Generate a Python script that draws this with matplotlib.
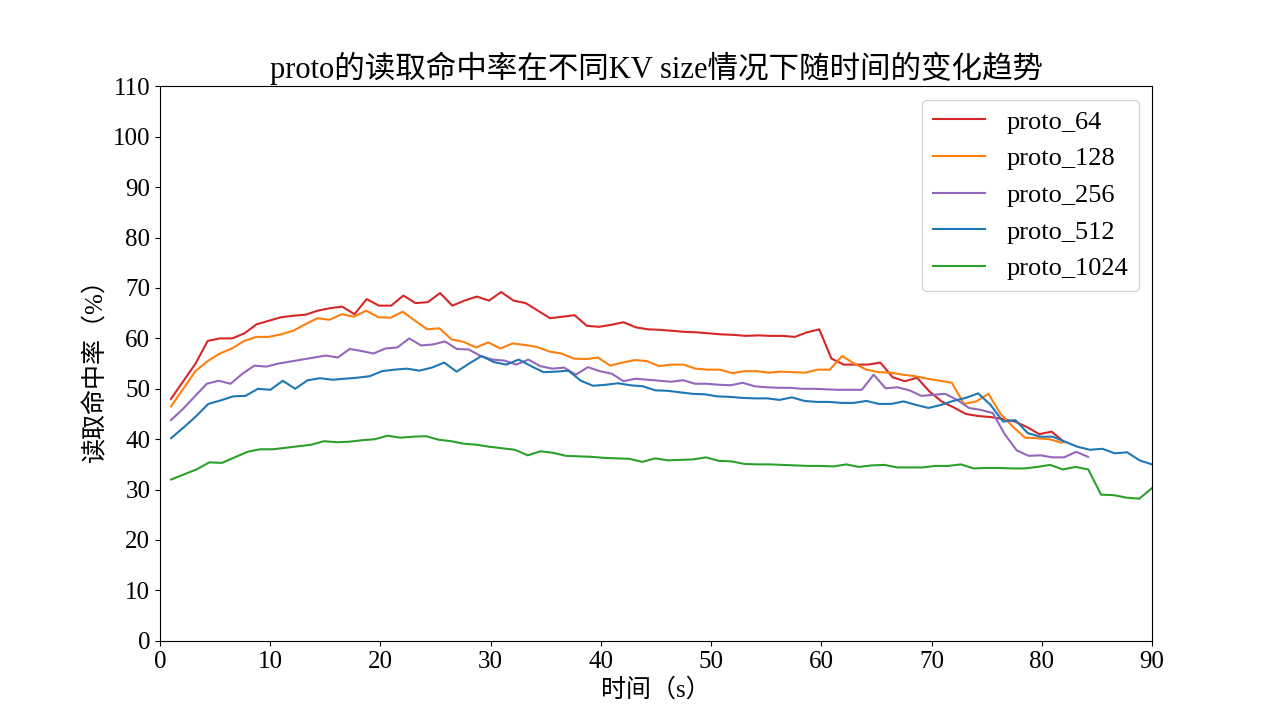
import numpy as np
import matplotlib.pyplot as plt

plt.rcParams['font.family'] = ['Liberation Serif', 'Noto Sans CJK SC', 'DejaVu Sans']

proto_64 = [48, 51.5, 55, 59.5, 60, 60, 61, 62.8, 63.5, 64.2, 64.5, 64.7, 65.5, 66, 66.3, 64.8, 67.8, 66.5,
            66.5, 68.5, 67, 67.2, 69, 66.5, 67.5, 68.3, 67.5, 69.2, 67.5, 67, 65.5, 64, 64.3, 64.6, 62.5, 62.3,
            62.7, 63.2, 62.2, 61.8, 61.7, 61.5, 61.3, 61.2, 61, 60.8, 60.7, 60.5, 60.6, 60.5, 60.5, 60.3, 61.2,
            61.8, 56, 54.8, 54.8, 54.8, 55.2, 52.3, 51.5, 52.2, 49.5, 47.5, 46.3, 45, 44.6, 44.4, 44, 43.5,
            42.4, 41, 41.5, 39.5]
proto_128 = [46.5, 50, 53.5, 55.5, 57, 58, 59.5, 60.3, 60.3, 60.8, 61.5, 62.8, 64, 63.7, 64.8, 64.3, 65.5,
             64.2, 64.1, 65.3, 63.5, 61.8, 62, 59.8, 59.3, 58.2, 59.2, 58, 59, 58.7, 58.3, 57.4, 57, 56, 55.9,
             56.2, 54.6, 55.2, 55.7, 55.5, 54.5, 54.8, 54.8, 54, 53.8, 53.8, 53.1, 53.5, 53.5, 53.2, 53.4, 53.3,
             53.2, 53.8, 53.8, 56.5, 55, 53.8, 53.3, 53.2, 52.8, 52.5, 52, 51.6, 51.2, 47, 47.5, 49, 45, 42.5,
             40.3, 40.2, 40, 39.3]
proto_256 = [43.8, 46, 48.5, 51, 51.6, 51, 53, 54.6, 54.4, 55, 55.4, 55.8, 56.2, 56.6, 56.2, 57.9, 57.5, 57,
             58, 58.2, 60, 58.6, 58.8, 59.4, 57.9, 57.8, 56.5, 55.8, 55.6, 54.8, 55.8, 54.5, 54, 54.2, 52.8,
             54.3, 53.5, 53, 51.5, 52, 51.8, 51.6, 51.4, 51.7, 51, 51, 50.8, 50.7, 51.2, 50.5, 50.3, 50.2, 50.2,
             50, 50, 49.9, 49.8, 49.8, 49.8, 52.8, 50.1, 50.3, 49.7, 48.6, 48.8, 49, 47.8, 46.2, 45.8, 45.2, 41,
             37.8, 36.7, 36.8, 36.4, 36.4, 37.5, 36.5]
proto_512 = [40.2, 42.3, 44.5, 47, 47.7, 48.5, 48.6, 50, 49.8, 51.6, 50, 51.7, 52.1, 51.8, 52, 52.2, 52.5,
             53.5, 53.8, 54, 53.6, 54.2, 55.2, 53.4, 55, 56.5, 55.3, 54.8, 55.8, 54.5, 53.3, 53.4, 53.6, 51.6,
             50.6, 50.8, 51.1, 50.7, 50.5, 49.7, 49.6, 49.3, 49, 48.9, 48.5, 48.4, 48.2, 48.1, 48.1, 47.8, 48.3,
             47.6, 47.4, 47.4, 47.2, 47.2, 47.6, 47, 47, 47.5, 46.8, 46.2, 46.8, 47.6, 48.2, 49.1, 46.8, 43.5,
             43.8, 41.2, 40.5, 40.5, 39.5, 38.5, 37.9, 38.1, 37.2, 37.4, 35.8, 35]
proto_1024 = [32, 33, 34, 35.4, 35.3, 36.4, 37.5, 38, 38, 38.3, 38.6, 38.9, 39.6, 39.4, 39.5, 39.8, 40, 40.7,
              40.3, 40.5, 40.6, 39.9, 39.6, 39.1, 38.9, 38.5, 38.2, 37.9, 36.8, 37.6, 37.3, 36.7, 36.6, 36.5,
              36.3, 36.2, 36.1, 35.5, 36.2, 35.8, 35.9, 36, 36.4, 35.7, 35.6, 35.1, 35, 35, 34.9, 34.8, 34.7,
              34.7, 34.6, 35, 34.5, 34.8, 34.9, 34.4, 34.4, 34.4, 34.7, 34.7, 35, 34.2, 34.3, 34.3, 34.2, 34.2,
              34.5, 34.9, 34, 34.5, 34, 29, 28.9, 28.4, 28.2, 30.3]

series = [("proto_64", proto_64, 82.0, "#d62728"),
          ("proto_128", proto_128, 81.8, "#ff7f0e"),
          ("proto_256", proto_256, 84.2, "#9467bd"),
          ("proto_512", proto_512, 90.0, "#1f77b4"),
          ("proto_1024", proto_1024, 90.0, "#2ca02c")]

fig, ax = plt.subplots(figsize=(12.8, 7.2), dpi=100)
for name, vals, end, color in series:
    t = np.linspace(1, end, len(vals))
    ax.plot(t, vals, color=color, label=name, linewidth=1.5)

ax.set_xlim(0, 90)
ax.set_ylim(0, 110)
ax.set_yticks(range(0, 111, 10))
ax.tick_params(labelsize=18)
ax.set_title("proto的读取命中率在不同KV size情况下随时间的变化趋势", fontsize=22)
ax.set_xlabel("时间（s）", fontsize=18)
ax.set_ylabel("读取命中率（%）", fontsize=18)
ax.legend(fontsize=19, loc='upper right')

fig.savefig("out.png")
